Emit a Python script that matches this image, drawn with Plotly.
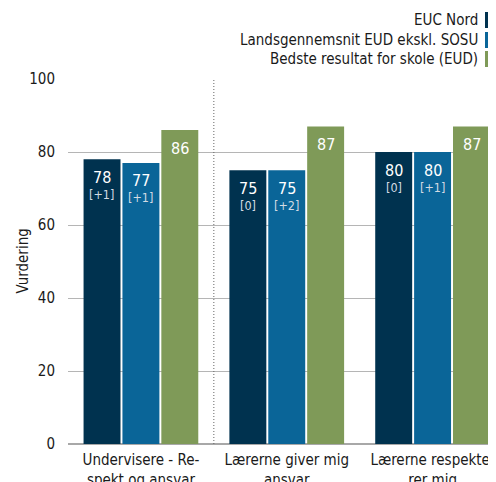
import plotly.graph_objects as go

categories = ["Undervisere - Re-<br>spekt og ansvar", "Lærerne giver mig<br>ansvar", "Lærerne respekte-<br>rer mig"]
series_names = ["EUC Nord", "Landsgennemsnit EUD ekskl. SOSU", "Bedste resultat for skole (EUD)"]
euc_nord = [78, 75, 80]
landsgns = [77, 75, 80]
bedste = [86, 87, 87]
euc_change = ["[+1]", "[0]", "[0]"]
lands_change = ["[+1]", "[+2]", "[+1]"]
colors = ["#00324f", "#0a6598", "#7f9a58"]
y_ticks = [0, 20, 40, 60, 80, 100]
y_title = "Vurdering"

FONT = "DejaVu Sans Condensed, Noto Sans"

x_idx = list(range(len(categories)))
series = [(series_names[0], euc_nord, euc_change, colors[0]),
          (series_names[1], landsgns, lands_change, colors[1]),
          (series_names[2], bedste, None, colors[2])]

fig = go.Figure()
for name, vals, ch, col in series:
    fig.add_trace(go.Bar(x=x_idx, y=vals, name=name, marker_color=col, marker_line_width=0,
                         showlegend=False, hoverinfo="x+y+name"))

# page body has an 8px margin -> figure coordinates are page coordinates minus 8
OFF = 8
plot_top, plot_bot, plot_left, plot_right = 79 - OFF, 444 - OFF, 67.5 - OFF, 504 - OFF
W, H = 496, 482
ph = plot_bot - plot_top
pw = plot_right - plot_left
CAT_PX = 146
BARGAP = 0.2
slot = CAT_PX * (1 - BARGAP) / 3

def py(ypx):
    return (plot_bot - (ypx - OFF)) / ph
def px(xpx):
    return ((xpx - OFF) - plot_left) / pw

annotations = []
shapes = []

# value labels inside bars
for k, (name, vals, ch, col) in enumerate(series):
    xs = (k - 1) * slot
    for i, v in enumerate(vals):
        annotations.append(dict(x=x_idx[i], y=v, xref="x", yref="y", text=str(v), showarrow=False,
                                xshift=xs, yshift=-18, yanchor="middle", xanchor="center",
                                font=dict(family=FONT, size=16, color="white")))
        if ch is not None:
            annotations.append(dict(x=x_idx[i], y=v, xref="x", yref="y", text=ch[i], showarrow=False,
                                    xshift=xs, yshift=-35, yanchor="middle", xanchor="center",
                                    font=dict(family=FONT, size=12.5, color="#d3dbe3")))

# legend drawn manually (symbols on right)
leg_centers = [20, 40, 59]
for name, col, yc in zip(series_names, colors, leg_centers):
    annotations.append(dict(x=px(480), y=py(yc), xref="paper", yref="paper", text=name,
                            showarrow=False, xanchor="right", yanchor="middle",
                            font=dict(family=FONT, size=15, color="#1a1a1a")))
    shapes.append(dict(type="rect", xref="paper", yref="paper", x0=px(485), x1=px(500),
                       y0=py(yc - 8), y1=py(yc + 8), fillcolor=col, line_width=0))

# y-axis title
annotations.append(dict(x=px(22), y=py(261), xref="paper", yref="paper", text=y_title,
                        showarrow=False, textangle=-90, xanchor="center", yanchor="middle",
                        font=dict(family=FONT, size=15, color="#1a1a1a")))

# dotted separator
shapes.append(dict(type="line", xref="x", yref="paper", x0=0.5, x1=0.5, y0=0, y1=1,
                   line=dict(color="#666666", width=1, dash="1px,2px")))

fig.update_layout(
    width=W, height=H,
    margin=dict(l=plot_left, r=W - plot_right, t=plot_top, b=H - plot_bot),
    paper_bgcolor="white", plot_bgcolor="white",
    barmode="group", bargap=BARGAP, bargroupgap=0.05,
    font=dict(family=FONT, size=15, color="#1a1a1a"),
    annotations=annotations, shapes=shapes,
    xaxis=dict(range=[-0.5, -0.5 + pw / CAT_PX], tickmode="array", tickvals=x_idx, ticktext=categories,
               showgrid=False, zeroline=False, showline=False, ticks="", automargin=False,
               ticklabelstandoff=5,
               tickfont=dict(family=FONT, size=15, color="#1a1a1a")),
    yaxis=dict(range=[0, 100], tickvals=y_ticks, showgrid=True, gridcolor="#b5b5b5", gridwidth=1,
               zeroline=True, zerolinecolor="#a8a8a8", zerolinewidth=2, showline=False,
               ticks="", ticklabelstandoff=12, automargin=False,
               tickfont=dict(family=FONT, size=15, color="#1a1a1a")),
)
fig.write_html("out.html")
